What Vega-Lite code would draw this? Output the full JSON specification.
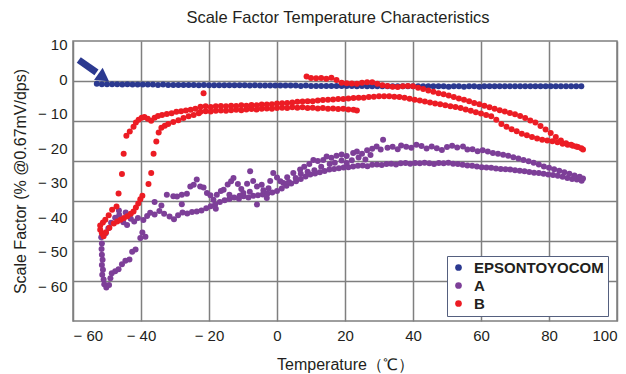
{
"$schema": "https://vega.github.io/schema/vega-lite/v6.json",
"width": 544, "height": 280,
"autosize": {"type": "none"},
"padding": {"left": 73, "top": 41, "right": 9, "bottom": 53},
"background": "white",
"title": {"text": "Scale Factor Temperature Characteristics", "font": "Liberation Sans", "fontSize": 16.5, "fontWeight": "normal", "color": "#231f20", "offset": 11, "dx": -7},
"config": {"view": {"stroke": "#7f7f7f", "strokeWidth": 1.5}, "font": "Liberation Sans"},
"resolve": {"axis": {"y": "independent"}},
"layer": [
{
"data": {"values": [
{"series":"EPSONTOYOCOM","temp":-53,"sf":-1.4},{"series":"EPSONTOYOCOM","temp":-51.5,"sf":-1.5},{"series":"EPSONTOYOCOM","temp":-50,"sf":-1.5},{"series":"EPSONTOYOCOM","temp":-48.5,"sf":-1.5},{"series":"EPSONTOYOCOM","temp":-47,"sf":-1.5},{"series":"EPSONTOYOCOM","temp":-45.5,"sf":-1.6},{"series":"EPSONTOYOCOM","temp":-44,"sf":-1.5},{"series":"EPSONTOYOCOM","temp":-42.5,"sf":-1.6},{"series":"EPSONTOYOCOM","temp":-41,"sf":-1.6},{"series":"EPSONTOYOCOM","temp":-39.5,"sf":-1.6},{"series":"EPSONTOYOCOM","temp":-38,"sf":-1.6},{"series":"EPSONTOYOCOM","temp":-36.5,"sf":-1.6},{"series":"EPSONTOYOCOM","temp":-35,"sf":-1.7},{"series":"EPSONTOYOCOM","temp":-33.5,"sf":-1.6},{"series":"EPSONTOYOCOM","temp":-32,"sf":-1.7},{"series":"EPSONTOYOCOM","temp":-30.5,"sf":-1.7},{"series":"EPSONTOYOCOM","temp":-29,"sf":-1.7},{"series":"EPSONTOYOCOM","temp":-27.5,"sf":-1.7},{"series":"EPSONTOYOCOM","temp":-26,"sf":-1.7},{"series":"EPSONTOYOCOM","temp":-24.5,"sf":-1.7},{"series":"EPSONTOYOCOM","temp":-23,"sf":-1.8},{"series":"EPSONTOYOCOM","temp":-21.5,"sf":-1.7},{"series":"EPSONTOYOCOM","temp":-20,"sf":-1.8},{"series":"EPSONTOYOCOM","temp":-18.5,"sf":-1.8},{"series":"EPSONTOYOCOM","temp":-17,"sf":-1.8},{"series":"EPSONTOYOCOM","temp":-15.5,"sf":-1.8},{"series":"EPSONTOYOCOM","temp":-14,"sf":-1.8},{"series":"EPSONTOYOCOM","temp":-12.5,"sf":-1.8},{"series":"EPSONTOYOCOM","temp":-11,"sf":-1.8},{"series":"EPSONTOYOCOM","temp":-9.5,"sf":-1.8},{"series":"EPSONTOYOCOM","temp":-8,"sf":-1.9},{"series":"EPSONTOYOCOM","temp":-6.5,"sf":-1.8},{"series":"EPSONTOYOCOM","temp":-5,"sf":-1.9},{"series":"EPSONTOYOCOM","temp":-3.5,"sf":-1.9},{"series":"EPSONTOYOCOM","temp":-2,"sf":-1.9},{"series":"EPSONTOYOCOM","temp":-0.5,"sf":-1.9},{"series":"EPSONTOYOCOM","temp":1,"sf":-1.9},{"series":"EPSONTOYOCOM","temp":2.5,"sf":-1.9},{"series":"EPSONTOYOCOM","temp":4,"sf":-1.9},{"series":"EPSONTOYOCOM","temp":5.5,"sf":-1.9},{"series":"EPSONTOYOCOM","temp":7,"sf":-2.0},{"series":"EPSONTOYOCOM","temp":8.5,"sf":-1.9},{"series":"EPSONTOYOCOM","temp":10,"sf":-2.0},{"series":"EPSONTOYOCOM","temp":11.5,"sf":-2.0},{"series":"EPSONTOYOCOM","temp":13,"sf":-2.0},{"series":"EPSONTOYOCOM","temp":14.5,"sf":-2.0},{"series":"EPSONTOYOCOM","temp":16,"sf":-2.0},{"series":"EPSONTOYOCOM","temp":17.5,"sf":-2.0},{"series":"EPSONTOYOCOM","temp":19,"sf":-2.0},{"series":"EPSONTOYOCOM","temp":20.5,"sf":-2.0},{"series":"EPSONTOYOCOM","temp":22,"sf":-2.0},{"series":"EPSONTOYOCOM","temp":23.5,"sf":-2.1},{"series":"EPSONTOYOCOM","temp":25,"sf":-2.0},{"series":"EPSONTOYOCOM","temp":26.5,"sf":-2.1},{"series":"EPSONTOYOCOM","temp":28,"sf":-2.1},{"series":"EPSONTOYOCOM","temp":29.5,"sf":-2.1},{"series":"EPSONTOYOCOM","temp":31,"sf":-2.1},{"series":"EPSONTOYOCOM","temp":32.5,"sf":-2.1},{"series":"EPSONTOYOCOM","temp":34,"sf":-2.1},{"series":"EPSONTOYOCOM","temp":35.5,"sf":-2.1},{"series":"EPSONTOYOCOM","temp":37,"sf":-2.1},{"series":"EPSONTOYOCOM","temp":38.5,"sf":-2.1},{"series":"EPSONTOYOCOM","temp":40,"sf":-2.1},{"series":"EPSONTOYOCOM","temp":41.5,"sf":-2.1},{"series":"EPSONTOYOCOM","temp":43,"sf":-2.1},{"series":"EPSONTOYOCOM","temp":44.5,"sf":-2.1},{"series":"EPSONTOYOCOM","temp":46,"sf":-2.1},{"series":"EPSONTOYOCOM","temp":47.5,"sf":-2.1},{"series":"EPSONTOYOCOM","temp":49,"sf":-2.1},{"series":"EPSONTOYOCOM","temp":50.5,"sf":-2.2},{"series":"EPSONTOYOCOM","temp":52,"sf":-2.1},{"series":"EPSONTOYOCOM","temp":53.5,"sf":-2.1},{"series":"EPSONTOYOCOM","temp":55,"sf":-2.2},{"series":"EPSONTOYOCOM","temp":56.5,"sf":-2.1},{"series":"EPSONTOYOCOM","temp":58,"sf":-2.1},{"series":"EPSONTOYOCOM","temp":59.5,"sf":-2.2},{"series":"EPSONTOYOCOM","temp":61,"sf":-2.1},{"series":"EPSONTOYOCOM","temp":62.5,"sf":-2.1},{"series":"EPSONTOYOCOM","temp":64,"sf":-2.1},{"series":"EPSONTOYOCOM","temp":65.5,"sf":-2.1},{"series":"EPSONTOYOCOM","temp":67,"sf":-2.1},{"series":"EPSONTOYOCOM","temp":68.5,"sf":-2.1},{"series":"EPSONTOYOCOM","temp":70,"sf":-2.1},{"series":"EPSONTOYOCOM","temp":71.5,"sf":-2.1},{"series":"EPSONTOYOCOM","temp":73,"sf":-2.1},{"series":"EPSONTOYOCOM","temp":74.5,"sf":-2.1},{"series":"EPSONTOYOCOM","temp":76,"sf":-2.1},{"series":"EPSONTOYOCOM","temp":77.5,"sf":-2.1},{"series":"EPSONTOYOCOM","temp":79,"sf":-2.1},{"series":"EPSONTOYOCOM","temp":80.5,"sf":-2.1},{"series":"EPSONTOYOCOM","temp":82,"sf":-2.1},{"series":"EPSONTOYOCOM","temp":83.5,"sf":-2.1},{"series":"EPSONTOYOCOM","temp":85,"sf":-2.1},{"series":"EPSONTOYOCOM","temp":86.5,"sf":-2.1},{"series":"EPSONTOYOCOM","temp":88,"sf":-2.1},{"series":"EPSONTOYOCOM","temp":89.5,"sf":-2.1},
{"series":"A","temp":-51.7,"sf":-45.8},{"series":"A","temp":-51.5,"sf":-47.6},{"series":"A","temp":-51.6,"sf":-49.2},{"series":"A","temp":-51.5,"sf":-50.8},{"series":"A","temp":-51.3,"sf":-52.3},{"series":"A","temp":-51.5,"sf":-53.8},{"series":"A","temp":-51.2,"sf":-55.2},{"series":"A","temp":-51.4,"sf":-56.6},{"series":"A","temp":-51.0,"sf":-58.0},{"series":"A","temp":-50.8,"sf":-59.4},{"series":"A","temp":-50.2,"sf":-60.3},{"series":"A","temp":-49.4,"sf":-59.6},{"series":"A","temp":-49.0,"sf":-57.6},{"series":"A","temp":-48.6,"sf":-56.2},{"series":"A","temp":-47.6,"sf":-55.6},{"series":"A","temp":-46.6,"sf":-55.0},{"series":"A","temp":-45.6,"sf":-53.6},{"series":"A","temp":-44.6,"sf":-52.6},{"series":"A","temp":-43.4,"sf":-52.2},{"series":"A","temp":-42.6,"sf":-50.0},{"series":"A","temp":-41.6,"sf":-49.3},{"series":"A","temp":-50.4,"sf":-44.6},{"series":"A","temp":-49.6,"sf":-43.2},
{"series":"A","temp":-48.8,"sf":-41.6},{"series":"A","temp":-47.6,"sf":-40.1},{"series":"A","temp":-46.4,"sf":-39.3},{"series":"A","temp":-45.2,"sf":-41.4},{"series":"A","temp":-44.1,"sf":-42.2},{"series":"A","temp":-43.0,"sf":-40.4},{"series":"A","temp":-42.0,"sf":-41.2},{"series":"A","temp":-40.9,"sf":-40.2},{"series":"A","temp":-40.2,"sf":-46.0},{"series":"A","temp":-39.6,"sf":-44.4},{"series":"A","temp":-38.7,"sf":-45.6},{"series":"A","temp":-39.3,"sf":-40.8},{"series":"A","temp":-38.2,"sf":-39.6},{"series":"A","temp":-37.3,"sf":-38.7},{"series":"A","temp":-36.0,"sf":-39.2},{"series":"A","temp":-34.6,"sf":-38.2},{"series":"A","temp":-33.2,"sf":-39.0},{"series":"A","temp":-31.6,"sf":-39.8},{"series":"A","temp":-30.3,"sf":-40.6},{"series":"A","temp":-29.1,"sf":-39.4},{"series":"A","temp":-27.8,"sf":-38.6},{"series":"A","temp":-26.4,"sf":-38.9},{"series":"A","temp":-25.0,"sf":-38.5},{"series":"A","temp":-23.6,"sf":-38.3},{"series":"A","temp":-22.2,"sf":-38.0},{"series":"A","temp":-20.8,"sf":-37.4},{"series":"A","temp":-19.5,"sf":-36.8},{"series":"A","temp":-18.2,"sf":-36.3},{"series":"A","temp":-16.8,"sf":-35.6},{"series":"A","temp":-15.4,"sf":-35.1},{"series":"A","temp":-14.0,"sf":-34.7},{"series":"A","temp":-12.6,"sf":-34.3},{"series":"A","temp":-11.2,"sf":-34.6},{"series":"A","temp":-9.8,"sf":-33.9},{"series":"A","temp":-8.4,"sf":-34.3},{"series":"A","temp":-7.0,"sf":-33.8},{"series":"A","temp":-5.6,"sf":-33.6},{"series":"A","temp":-4.2,"sf":-33.4},{"series":"A","temp":-2.8,"sf":-33.1},{"series":"A","temp":-1.4,"sf":-32.8},{"series":"A","temp":0.0,"sf":-32.4},{"series":"A","temp":1.4,"sf":-31.7},{"series":"A","temp":2.8,"sf":-30.9},{"series":"A","temp":4.2,"sf":-30.2},{"series":"A","temp":5.6,"sf":-29.6},{"series":"A","temp":7.0,"sf":-28.9},{"series":"A","temp":8.4,"sf":-28.2},{"series":"A","temp":9.8,"sf":-27.6},{"series":"A","temp":11.2,"sf":-27.3},{"series":"A","temp":12.6,"sf":-27.0},{"series":"A","temp":14.0,"sf":-26.6},{"series":"A","temp":15.4,"sf":-26.2},{"series":"A","temp":16.8,"sf":-26.0},{"series":"A","temp":18.2,"sf":-25.8},{"series":"A","temp":19.6,"sf":-25.6},{"series":"A","temp":21.0,"sf":-25.5},{"series":"A","temp":22.4,"sf":-25.3},{"series":"A","temp":23.8,"sf":-25.1},{"series":"A","temp":25.2,"sf":-25.0},{"series":"A","temp":26.6,"sf":-25.2},{"series":"A","temp":28.0,"sf":-24.8},{"series":"A","temp":29.4,"sf":-24.7},{"series":"A","temp":30.8,"sf":-24.9},{"series":"A","temp":32.2,"sf":-24.6},{"series":"A","temp":33.6,"sf":-24.5},{"series":"A","temp":35.0,"sf":-24.7},{"series":"A","temp":36.4,"sf":-24.4},{"series":"A","temp":37.8,"sf":-24.3},{"series":"A","temp":39.2,"sf":-24.5},{"series":"A","temp":40.6,"sf":-24.3},{"series":"A","temp":42.0,"sf":-24.4},{"series":"A","temp":43.4,"sf":-24.2},{"series":"A","temp":44.8,"sf":-24.4},{"series":"A","temp":46.2,"sf":-24.6},{"series":"A","temp":47.6,"sf":-24.3},{"series":"A","temp":49.0,"sf":-24.4},{"series":"A","temp":50.4,"sf":-24.2},{"series":"A","temp":51.8,"sf":-24.5},{"series":"A","temp":53.2,"sf":-24.6},{"series":"A","temp":54.6,"sf":-24.8},{"series":"A","temp":56.0,"sf":-25.0},{"series":"A","temp":57.4,"sf":-25.1},{"series":"A","temp":58.8,"sf":-25.3},{"series":"A","temp":60.2,"sf":-25.5},{"series":"A","temp":61.6,"sf":-25.6},{"series":"A","temp":63.0,"sf":-25.7},{"series":"A","temp":64.4,"sf":-25.9},{"series":"A","temp":65.8,"sf":-26.0},{"series":"A","temp":67.2,"sf":-26.1},{"series":"A","temp":68.6,"sf":-26.2},{"series":"A","temp":70.0,"sf":-26.4},{"series":"A","temp":71.4,"sf":-26.5},{"series":"A","temp":72.8,"sf":-26.7},{"series":"A","temp":74.2,"sf":-26.9},{"series":"A","temp":75.6,"sf":-27.1},{"series":"A","temp":77.0,"sf":-27.2},{"series":"A","temp":78.4,"sf":-27.4},{"series":"A","temp":79.8,"sf":-27.6},{"series":"A","temp":81.2,"sf":-27.8},{"series":"A","temp":82.6,"sf":-28.0},{"series":"A","temp":84.0,"sf":-28.3},{"series":"A","temp":85.4,"sf":-28.6},{"series":"A","temp":86.8,"sf":-28.9},{"series":"A","temp":88.2,"sf":-29.1},{"series":"A","temp":89.6,"sf":-29.4},
{"series":"A","temp":-32.4,"sf":-33.5},{"series":"A","temp":-30.5,"sf":-33.9},{"series":"A","temp":-29.4,"sf":-34},{"series":"A","temp":-28,"sf":-33.5},{"series":"A","temp":-26.5,"sf":-33.2},{"series":"A","temp":-25.5,"sf":-31.1},{"series":"A","temp":-24.5,"sf":-30.6},{"series":"A","temp":-23.6,"sf":-29.1},{"series":"A","temp":-22.6,"sf":-31.1},{"series":"A","temp":-21.6,"sf":-31.4},{"series":"A","temp":-20.6,"sf":-33},{"series":"A","temp":-19.6,"sf":-33.6},{"series":"A","temp":-18.7,"sf":-34.9},{"series":"A","temp":-17.7,"sf":-33.5},{"series":"A","temp":-16.5,"sf":-32.4},{"series":"A","temp":-15.7,"sf":-32},{"series":"A","temp":-14.5,"sf":-30.5},{"series":"A","temp":-13.5,"sf":-29.6},{"series":"A","temp":-12.8,"sf":-28.6},{"series":"A","temp":-11.5,"sf":-30.4},{"series":"A","temp":-10.5,"sf":-31.8},{"series":"A","temp":-9.9,"sf":-33},{"series":"A","temp":-8.8,"sf":-30.3},{"series":"A","temp":-7.9,"sf":-26.7},{"series":"A","temp":-7,"sf":-29.5},{"series":"A","temp":-5.9,"sf":-31.1},{"series":"A","temp":-5.9,"sf":-36.3},{"series":"A","temp":-4.5,"sf":-30.6},{"series":"A","temp":-3,"sf":-34.4},{"series":"A","temp":-2,"sf":-29.5},{"series":"A","temp":-1.1,"sf":-27.2},{"series":"A","temp":0,"sf":-28.5},{"series":"A","temp":1.9,"sf":-30.1},{"series":"A","temp":3,"sf":-28.4},{"series":"A","temp":4.8,"sf":-27.2},{"series":"A","temp":6.8,"sf":-26.2},{"series":"A","temp":8,"sf":-25.4},{"series":"A","temp":9.5,"sf":-24.6},{"series":"A","temp":10.7,"sf":-23.4},{"series":"A","temp":12,"sf":-23.7},{"series":"A","temp":13.6,"sf":-23.4},{"series":"A","temp":14.6,"sf":-22.4},{"series":"A","temp":16,"sf":-22.8},{"series":"A","temp":17.5,"sf":-22.2},{"series":"A","temp":19,"sf":-21.8},{"series":"A","temp":20.5,"sf":-22.3},{"series":"A","temp":22.4,"sf":-21.4},{"series":"A","temp":23.5,"sf":-21},{"series":"A","temp":25,"sf":-21.6},{"series":"A","temp":26.5,"sf":-20.6},{"series":"A","temp":28,"sf":-20.2},{"series":"A","temp":29.3,"sf":-19.5},{"series":"A","temp":30.5,"sf":-20.4},{"series":"A","temp":31.2,"sf":-17.6},{"series":"A","temp":32.5,"sf":-19.9},{"series":"A","temp":34,"sf":-19.6},{"series":"A","temp":35.5,"sf":-20.3},{"series":"A","temp":36.5,"sf":-19.2},{"series":"A","temp":38,"sf":-19.6},{"series":"A","temp":39.5,"sf":-19.9},{"series":"A","temp":41,"sf":-19},{"series":"A","temp":42.5,"sf":-19.4},{"series":"A","temp":44,"sf":-20.1},{"series":"A","temp":45.5,"sf":-19.5},{"series":"A","temp":47,"sf":-20},{"series":"A","temp":48.5,"sf":-20.5},{"series":"A","temp":50,"sf":-19.7},{"series":"A","temp":51.5,"sf":-19.3},{"series":"A","temp":53,"sf":-19.8},{"series":"A","temp":54.7,"sf":-19.5},{"series":"A","temp":56,"sf":-20.4},{"series":"A","temp":57.5,"sf":-20.3},{"series":"A","temp":59,"sf":-20.9},{"series":"A","temp":60.5,"sf":-20.6},{"series":"A","temp":62,"sf":-21},{"series":"A","temp":63.5,"sf":-21.4},{"series":"A","temp":65,"sf":-21.6},{"series":"A","temp":66.5,"sf":-21.9},{"series":"A","temp":68,"sf":-22.2},{"series":"A","temp":69.5,"sf":-22.6},{"series":"A","temp":71,"sf":-23},{"series":"A","temp":72.5,"sf":-23.4},{"series":"A","temp":74,"sf":-23.8},{"series":"A","temp":75.5,"sf":-24.2},{"series":"A","temp":77,"sf":-24.7},{"series":"A","temp":78.5,"sf":-25.3},{"series":"A","temp":80,"sf":-25.7},{"series":"A","temp":81.5,"sf":-26.1},{"series":"A","temp":83,"sf":-26.5},{"series":"A","temp":84.5,"sf":-27.0},{"series":"A","temp":86,"sf":-27.4},{"series":"A","temp":87.5,"sf":-27.9},{"series":"A","temp":89,"sf":-28.3},{"series":"A","temp":90,"sf":-28.8},
{"series":"A","temp":-18,"sf":-37.5},{"series":"A","temp":-14,"sf":-33.5},{"series":"A","temp":-11,"sf":-33.8},{"series":"A","temp":-8,"sf":-32.6},{"series":"A","temp":-4,"sf":-32.2},{"series":"A","temp":-2.5,"sf":-31.6},{"series":"A","temp":1,"sf":-29.6},{"series":"A","temp":3.5,"sf":-29.8},{"series":"A","temp":5.5,"sf":-28.6},{"series":"A","temp":7,"sf":-27.4},{"series":"A","temp":9,"sf":-26.8},{"series":"A","temp":11,"sf":-26.4},{"series":"A","temp":13,"sf":-25.4},{"series":"A","temp":15.5,"sf":-24.6},{"series":"A","temp":17,"sf":-24.2},{"series":"A","temp":19,"sf":-23.6},{"series":"A","temp":20.5,"sf":-24.3},{"series":"A","temp":22,"sf":-23.5},{"series":"A","temp":24,"sf":-22.7},{"series":"A","temp":26,"sf":-23.3},{"series":"A","temp":27.5,"sf":-22.0},{"series":"A","temp":-36,"sf":-35.6},{"series":"A","temp":-34,"sf":-36.6},{"series":"A","temp":-28,"sf":-36.2},{"series":"A","temp":-44.5,"sf":-38.6},{"series":"A","temp":-46.5,"sf":-38.0},
{"series":"B","temp":-52,"sf":-43.6},{"series":"B","temp":-51.5,"sf":-44.6},{"series":"B","temp":-51,"sf":-45.5},{"series":"B","temp":-52,"sf":-42.4},{"series":"B","temp":-51.2,"sf":-41.5},{"series":"B","temp":-50.5,"sf":-40.7},{"series":"B","temp":-49.5,"sf":-39.4},{"series":"B","temp":-48.5,"sf":-37.8},{"series":"B","temp":-47.2,"sf":-36.9},{"series":"B","temp":-46.6,"sf":-33.1},{"series":"B","temp":-45.6,"sf":-27.5},{"series":"B","temp":-45.1,"sf":-21.6},{"series":"B","temp":-44.3,"sf":-16.4},{"series":"B","temp":-43.3,"sf":-15.2},{"series":"B","temp":-42.2,"sf":-13.8},{"series":"B","temp":-41.5,"sf":-12.6},{"series":"B","temp":-40.7,"sf":-11.8},{"series":"B","temp":-39.8,"sf":-11.2},{"series":"B","temp":-39,"sf":-11.0},{"series":"B","temp":-38,"sf":-11.5},{"series":"B","temp":-37,"sf":-12.1},{"series":"B","temp":-36,"sf":-11.2},{"series":"B","temp":-35,"sf":-10.7},
{"series":"B","temp":-50.3,"sf":-44.3},{"series":"B","temp":-49.3,"sf":-43},{"series":"B","temp":-48,"sf":-41.8},{"series":"B","temp":-47,"sf":-41.2},{"series":"B","temp":-46,"sf":-40.7},{"series":"B","temp":-45,"sf":-40.2},{"series":"B","temp":-44,"sf":-39.7},{"series":"B","temp":-43,"sf":-39},{"series":"B","temp":-42.2,"sf":-38.3},{"series":"B","temp":-41.5,"sf":-37.2},{"series":"B","temp":-40.8,"sf":-36},{"series":"B","temp":-40.2,"sf":-34.8},{"series":"B","temp":-39.6,"sf":-33.8},
{"series":"B","temp":-37.8,"sf":-30.4},{"series":"B","temp":-37,"sf":-27.2},{"series":"B","temp":-36.3,"sf":-21.6},{"series":"B","temp":-35.5,"sf":-18.1},{"series":"B","temp":-34.8,"sf":-15.5},{"series":"B","temp":-34,"sf":-14.1},{"series":"B","temp":-33,"sf":-13.5},{"series":"B","temp":-32,"sf":-13.0},{"series":"B","temp":-30.5,"sf":-12.4},{"series":"B","temp":-29,"sf":-11.9},{"series":"B","temp":-27.5,"sf":-11.3},{"series":"B","temp":-26,"sf":-10.8},{"series":"B","temp":-24.5,"sf":-10.4},{"series":"B","temp":-23,"sf":-9.9},
{"series":"B","temp":-21.6,"sf":-4.1},
{"series":"B","temp":-33.8,"sf":-10.4},{"series":"B","temp":-32.4,"sf":-10.1},{"series":"B","temp":-31,"sf":-9.9},{"series":"B","temp":-29.6,"sf":-9.5},{"series":"B","temp":-28.2,"sf":-9.3},{"series":"B","temp":-26.8,"sf":-9.1},{"series":"B","temp":-25.4,"sf":-8.9},{"series":"B","temp":-24,"sf":-8.6},
{"series":"B","temp":-22.5,"sf":-9.5},{"series":"B","temp":-21,"sf":-9.3},{"series":"B","temp":-19.5,"sf":-9.4},{"series":"B","temp":-18,"sf":-9.2},{"series":"B","temp":-16.5,"sf":-9.1},{"series":"B","temp":-15,"sf":-9.2},{"series":"B","temp":-13.5,"sf":-9.0},{"series":"B","temp":-12,"sf":-8.9},{"series":"B","temp":-10.5,"sf":-9.0},{"series":"B","temp":-9,"sf":-8.8},{"series":"B","temp":-7.5,"sf":-8.7},{"series":"B","temp":-6,"sf":-8.8},{"series":"B","temp":-4.5,"sf":-8.6},{"series":"B","temp":-3,"sf":-8.5},{"series":"B","temp":-1.5,"sf":-8.6},{"series":"B","temp":0,"sf":-8.4},{"series":"B","temp":1.5,"sf":-8.3},{"series":"B","temp":3,"sf":-8.4},{"series":"B","temp":4.5,"sf":-8.2},{"series":"B","temp":6,"sf":-8.3},{"series":"B","temp":7.5,"sf":-8.2},{"series":"B","temp":9,"sf":-8.4},{"series":"B","temp":10.5,"sf":-8.3},{"series":"B","temp":12,"sf":-8.5},{"series":"B","temp":13.5,"sf":-8.4},{"series":"B","temp":15,"sf":-8.6},{"series":"B","temp":16.5,"sf":-8.5},{"series":"B","temp":18,"sf":-8.7},{"series":"B","temp":19.5,"sf":-8.6},{"series":"B","temp":21,"sf":-8.8},{"series":"B","temp":22.5,"sf":-8.9},{"series":"B","temp":23.5,"sf":-9.1},
{"series":"B","temp":-22.5,"sf":-8.0},{"series":"B","temp":-21,"sf":-7.9},{"series":"B","temp":-19.5,"sf":-8.1},{"series":"B","temp":-18,"sf":-7.9},{"series":"B","temp":-16.5,"sf":-7.8},{"series":"B","temp":-15,"sf":-7.9},{"series":"B","temp":-13.5,"sf":-7.7},{"series":"B","temp":-12,"sf":-7.8},{"series":"B","temp":-10.5,"sf":-7.6},{"series":"B","temp":-9,"sf":-7.7},{"series":"B","temp":-7.5,"sf":-7.5},{"series":"B","temp":-6,"sf":-7.6},{"series":"B","temp":-4.5,"sf":-7.4},{"series":"B","temp":-3,"sf":-7.4},{"series":"B","temp":-1.5,"sf":-7.3},{"series":"B","temp":0,"sf":-7.1},{"series":"B","temp":1.5,"sf":-7.0},{"series":"B","temp":3,"sf":-6.9},{"series":"B","temp":4.5,"sf":-6.8},{"series":"B","temp":6,"sf":-6.6},{"series":"B","temp":7.5,"sf":-6.5},{"series":"B","temp":9,"sf":-6.4},{"series":"B","temp":10.5,"sf":-6.4},{"series":"B","temp":12,"sf":-6.2},{"series":"B","temp":13.5,"sf":-6.1},{"series":"B","temp":15,"sf":-6.0},{"series":"B","temp":16.5,"sf":-5.9},{"series":"B","temp":18,"sf":-5.8},{"series":"B","temp":19.5,"sf":-5.8},{"series":"B","temp":21,"sf":-5.6},{"series":"B","temp":22.5,"sf":-5.5},{"series":"B","temp":24,"sf":-5.4},{"series":"B","temp":25.5,"sf":-5.4},{"series":"B","temp":27,"sf":-5.2},{"series":"B","temp":28.5,"sf":-5.1},{"series":"B","temp":30,"sf":-5.0},{"series":"B","temp":31.5,"sf":-5.0},{"series":"B","temp":33,"sf":-5.0},{"series":"B","temp":34.5,"sf":-5.1},{"series":"B","temp":36,"sf":-5.2},
{"series":"B","temp":37.5,"sf":-5.4},{"series":"B","temp":39,"sf":-5.7},{"series":"B","temp":40.5,"sf":-6.0},{"series":"B","temp":42,"sf":-6.2},{"series":"B","temp":43.5,"sf":-6.5},{"series":"B","temp":45,"sf":-6.8},{"series":"B","temp":46.5,"sf":-7.1},{"series":"B","temp":48,"sf":-7.3},{"series":"B","temp":49.5,"sf":-7.6},{"series":"B","temp":51,"sf":-7.9},{"series":"B","temp":52.5,"sf":-8.1},{"series":"B","temp":54,"sf":-8.4},{"series":"B","temp":55.5,"sf":-8.8},{"series":"B","temp":57,"sf":-9.2},{"series":"B","temp":58.5,"sf":-9.6},{"series":"B","temp":60,"sf":-10.0},{"series":"B","temp":61.5,"sf":-10.4},{"series":"B","temp":63,"sf":-10.8},{"series":"B","temp":64.5,"sf":-11.8},{"series":"B","temp":66,"sf":-13.0},{"series":"B","temp":67.5,"sf":-13.8},{"series":"B","temp":69,"sf":-14.5},{"series":"B","temp":70.5,"sf":-15.1},{"series":"B","temp":72,"sf":-15.8},{"series":"B","temp":73.5,"sf":-16.3},{"series":"B","temp":75,"sf":-16.8},{"series":"B","temp":76.5,"sf":-17.2},{"series":"B","temp":78,"sf":-17.6},{"series":"B","temp":79.5,"sf":-17.8},{"series":"B","temp":81,"sf":-18.0},{"series":"B","temp":82.5,"sf":-18.3},{"series":"B","temp":84,"sf":-18.7},{"series":"B","temp":85.5,"sf":-19.0},{"series":"B","temp":87,"sf":-19.3},{"series":"B","temp":88.5,"sf":-19.7},{"series":"B","temp":90,"sf":-20.4},
{"series":"B","temp":8.7,"sf":0.7},{"series":"B","temp":10,"sf":0.3},{"series":"B","temp":11.5,"sf":0.2},{"series":"B","temp":13,"sf":0.3},{"series":"B","temp":14.5,"sf":0.1},{"series":"B","temp":16,"sf":0.4},{"series":"B","temp":17.5,"sf":-0.3},{"series":"B","temp":19,"sf":-1.1},{"series":"B","temp":20.5,"sf":-1.2},{"series":"B","temp":22,"sf":-1.3},{"series":"B","temp":23.5,"sf":-1.4},{"series":"B","temp":25,"sf":-1.1},{"series":"B","temp":26.5,"sf":-0.9},{"series":"B","temp":28,"sf":-0.9},{"series":"B","temp":29.5,"sf":-1.4},{"series":"B","temp":31,"sf":-1.8},{"series":"B","temp":32.5,"sf":-2.0},{"series":"B","temp":34,"sf":-2.2},{"series":"B","temp":35.5,"sf":-2.3},{"series":"B","temp":37,"sf":-2.1},{"series":"B","temp":38.5,"sf":-2.0},{"series":"B","temp":40,"sf":-2.1},{"series":"B","temp":41.5,"sf":-2.5},{"series":"B","temp":43,"sf":-2.9},{"series":"B","temp":44.5,"sf":-3.3},{"series":"B","temp":46,"sf":-3.7},{"series":"B","temp":47.5,"sf":-4.1},{"series":"B","temp":49,"sf":-4.4},{"series":"B","temp":50.5,"sf":-4.8},{"series":"B","temp":52,"sf":-5.2},{"series":"B","temp":53.5,"sf":-5.6},{"series":"B","temp":55,"sf":-6.0},{"series":"B","temp":56.5,"sf":-6.4},{"series":"B","temp":58,"sf":-6.9},{"series":"B","temp":59.5,"sf":-7.3},{"series":"B","temp":61,"sf":-7.7},{"series":"B","temp":62.5,"sf":-8.2},{"series":"B","temp":64,"sf":-8.6},{"series":"B","temp":65.5,"sf":-9.0},{"series":"B","temp":67,"sf":-9.4},{"series":"B","temp":68.5,"sf":-9.8},{"series":"B","temp":70,"sf":-10.2},{"series":"B","temp":71.5,"sf":-10.7},{"series":"B","temp":73,"sf":-11.3},{"series":"B","temp":74.5,"sf":-12.0},{"series":"B","temp":76,"sf":-12.6},{"series":"B","temp":77.5,"sf":-13.6},{"series":"B","temp":79,"sf":-14.6},{"series":"B","temp":80.5,"sf":-15.6},{"series":"B","temp":82,"sf":-16.8},{"series":"B","temp":83.5,"sf":-17.8},{"series":"B","temp":85,"sf":-18.6},{"series":"B","temp":86.5,"sf":-19.0},{"series":"B","temp":88,"sf":-19.5},{"series":"B","temp":89.5,"sf":-20.0}
]},
"mark": {"type": "circle", "opacity": 1, "size": 36},
"encoding": {
"x": {"field": "temp", "type": "quantitative", "scale": {"domain": [-60, 100], "nice": false, "zero": false},
 "axis": {"values": [-60,-40,-20,0,20,40,60,80,100], "grid": true, "gridColor": "#7f7f7f", "gridWidth": 1.5, "gridOpacity": 1, "ticks": false, "domain": false, "labelFont": "Liberation Sans", "labelFontSize": 15, "labelColor": "#231f20", "labelPadding": 7, "labelExpr": "datum.value < 0 ? '− ' + abs(datum.value) : datum.label", "title": "Temperature（℃）", "titleFont": "Liberation Sans", "titleFontSize": 16, "titleFontWeight": "normal", "titleColor": "#231f20", "titlePadding": 13}},
"y": {"field": "sf", "type": "quantitative", "scale": {"domain": [-70, 11], "nice": false, "zero": false},
 "axis": {"orient": "left", "values": [10,0,-10,-20,-30,-40,-50,-60], "grid": false, "ticks": false, "domain": false, "labelFont": "Liberation Sans", "labelFontSize": 15, "labelColor": "#231f20", "labelPadding": 6, "labelExpr": "datum.value < 0 ? '− ' + abs(datum.value) : datum.label", "title": "Scale Factor (% @0.67mV/dps)", "titleFont": "Liberation Sans", "titleFontSize": 16, "titleFontWeight": "normal", "titleColor": "#231f20", "titlePadding": 9}},
"color": {"field": "series", "type": "nominal", "scale": {"domain": ["EPSONTOYOCOM", "A", "B"], "range": ["#2b3990", "#7d3f98", "#ec1c24"]},
 "legend": {"title": null, "orient": "none", "legendX": 374, "legendY": 215, "direction": "vertical", "fillColor": "white", "strokeColor": "#55607f", "padding": 4, "rowPadding": 2, "symbolType": "circle", "symbolSize": 45, "symbolStrokeWidth": 0, "labelFont": "Liberation Sans", "labelFontSize": 15, "labelFontWeight": "bold", "labelColor": "#231f20", "labelOffset": 8}}
}
},
{
"data": {"values": [{"tx": -58.3, "ty": 5.5, "hx": -53.1, "hy": 1.9}]},
"mark": {"type": "rule", "color": "#2b3990", "strokeWidth": 7, "strokeCap": "butt"},
"encoding": {
"x": {"field": "tx", "type": "quantitative"},
"y": {"field": "ty", "type": "quantitative", "axis": {"orient": "left", "values": [-58.4286, -46.8571, -35.2857, -23.7143, -12.1429, -0.5714], "grid": true, "gridColor": "#7f7f7f", "gridWidth": 1.5, "gridOpacity": 1, "labels": false, "ticks": false, "domain": false, "title": null}},
"x2": {"field": "hx"},
"y2": {"field": "hy"}
}
},
{
"data": {"values": [{"px": -51.5, "py": 0.8}]},
"mark": {"type": "point", "shape": "triangle", "filled": true, "color": "#2b3990", "opacity": 1, "size": 225, "angle": 125},
"encoding": {
"x": {"field": "px", "type": "quantitative"},
"y": {"field": "py", "type": "quantitative", "axis": null}
}
}
]
}
